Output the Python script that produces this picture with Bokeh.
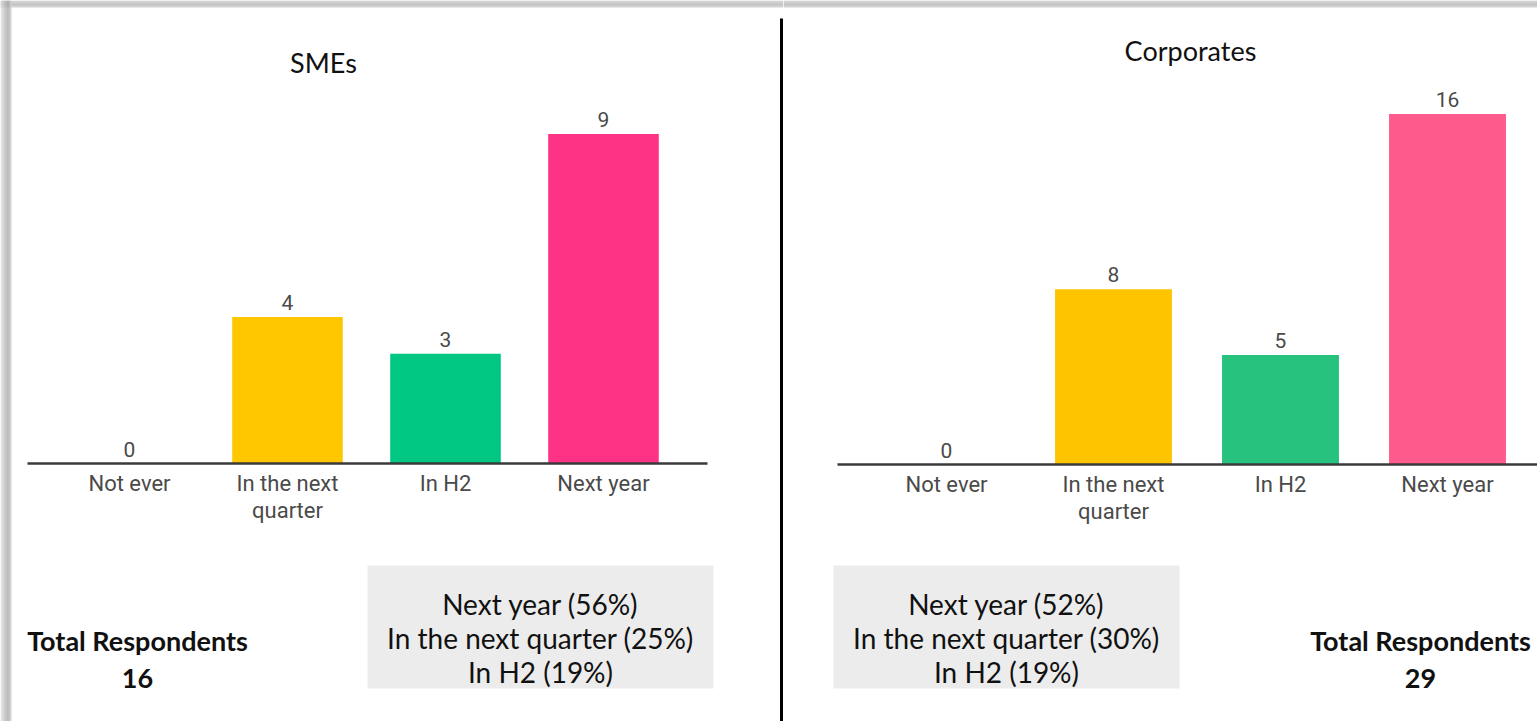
from bokeh.plotting import figure
from bokeh.layouts import row
from bokeh.models import Range1d, FixedTicker
from bokeh.core.properties import value
from bokeh.embed import file_html
from bokeh.resources import INLINE

# ---------------- data ----------------
categories = ["Not ever", "In the next\nquarter", "In H2", "Next year"]
sme_values = [0, 4, 3, 9]
corp_values = [0, 8, 5, 16]
sme_title = "SMEs"
corp_title = "Corporates"
sme_summary = ["Next year (56%)", "In the next quarter (25%)", "In H2 (19%)"]
corp_summary = ["Next year (52%)", "In the next quarter (30%)", "In H2 (19%)"]
sme_total = 16
corp_total = 29

# ---------------- styles ----------------
sme_colors = ["#FFC700", "#FFC700", "#00C882", "#FF3385"]
corp_colors = ["#FFC400", "#FFC400", "#28C27F", "#FF5A8C"]
CAL = "Lato"
TICKF = "Roboto"
H = 721
WL = 783
WR = 1537 - WL


def make_panel(width, offset, cx0, step, base, ppu, values, colors, title, tx, ty,
               axis_l, axis_r, box, summary, total, totx):
    fx = lambda px: (px - cx0) / step
    fy = lambda py: (base - py) / ppu
    p = figure(width=width, height=H, output_backend="svg", toolbar_location=None,
               x_range=Range1d(fx(offset), fx(offset + width)),
               y_range=Range1d(fy(H), fy(0)),
               min_border=0, min_border_left=0, min_border_right=0,
               min_border_top=0, min_border_bottom=0)
    p.outline_line_color = None
    p.xgrid.visible = False
    p.ygrid.visible = False
    p.yaxis.visible = False
    p.background_fill_color = "white"
    p.border_fill_color = "white"

    xs = list(range(len(categories)))
    p.vbar(x=xs, top=values, bottom=0, width=0.7, fill_color=colors, line_color=None)
    p.text(x=xs, y=values, text=[str(v) for v in values], y_offset=-7,
           text_align="center", text_baseline="bottom", text_font=value(TICKF),
           text_font_size="21px", text_color="#4a4a4a")

    ax = p.xaxis[0]
    ax.fixed_location = 0
    ax.bounds = (fx(axis_l), fx(axis_r))
    ax.ticker = FixedTicker(ticks=xs)
    ax.major_label_overrides = {i: c for i, c in enumerate(categories)}
    ax.axis_line_color = "#3a3a3a"
    ax.axis_line_width = 2.5
    ax.major_tick_line_color = None
    ax.minor_tick_line_color = None
    ax.major_label_standoff = 1
    ax.major_label_text_font = TICKF
    ax.major_label_text_font_size = "22px"
    ax.major_label_text_line_height = 1.1
    ax.major_label_text_color = "#4a4a4a"

    # title
    p.text(x=[fx(tx)], y=[fy(ty)], text=[title], text_align="center",
           text_baseline="alphabetic", text_font=value(CAL), text_font_size="27px",
           text_color="#111111")

    # summary box
    bl, br, bt, bb = box
    p.quad(left=fx(bl), right=fx(br), top=fy(bt), bottom=fy(bb),
           fill_color="#ececec", line_color=None)
    bcx = (bl + br) / 2
    p.text(x=[fx(bcx)] * len(summary), y=[fy(603 + 34 * i) for i in range(len(summary))],
           text=summary, text_align="center", text_baseline="alphabetic",
           text_font=value(CAL), text_font_size="28px", text_color="#111111")

    # total respondents
    p.text(x=[fx(totx), fx(totx)], y=[fy(640), fy(678)],
           text=["Total Respondents", str(total)], text_align="center",
           text_baseline="alphabetic", text_font=value(CAL), text_font_style="bold",
           text_font_size="27px", text_color="#111111")

    # top shadow band
    shades_top = ["#c9c9c9", "#c2c2c2", "#bcbcbc", "#b6b6b6", "#b2b2b2", "#b8b8b8", "#cfcfcf"]
    for i, c in enumerate(shades_top):
        p.quad(left=fx(offset), right=fx(offset + width), top=fy(i), bottom=fy(i + 1),
               fill_color=c, line_color=None)
    return p, fx, fy


left, lfx, lfy = make_panel(WL, 0, 129, 158, 463, 36.6, sme_values, sme_colors, sme_title,
                            323, 62, 27, 707, (367, 713, 565, 688), sme_summary,
                            sme_total, 137)
right, rfx, rfy = make_panel(WR, WL, 946, 167, 464, 21.9, corp_values, corp_colors, corp_title,
                             1190, 50, 837, 1556, (833, 1179, 565, 688), corp_summary,
                             corp_total, 1420)

# left shadow band
shades_left = ["#e2e2e2", "#d8d8d8", "#cecece", "#c4c4c4", "#bbbbbb", "#b3b3b3",
               "#acacac", "#a8a8a8", "#a9a9a9", "#b5b5b5", "#d0d0d0"]
for i, c in enumerate(shades_left):
    left.quad(left=lfx(i), right=lfx(i + 1), top=lfy(0), bottom=lfy(H),
              fill_color=c, line_color=None)

# divider
left.segment(x0=[lfx(781)], x1=[lfx(781)], y0=[lfy(18)], y1=[lfy(H)],
             line_color="black", line_width=3)

layout = row(left, right, spacing=0)
open("out.html", "w").write(file_html(layout, INLINE))
